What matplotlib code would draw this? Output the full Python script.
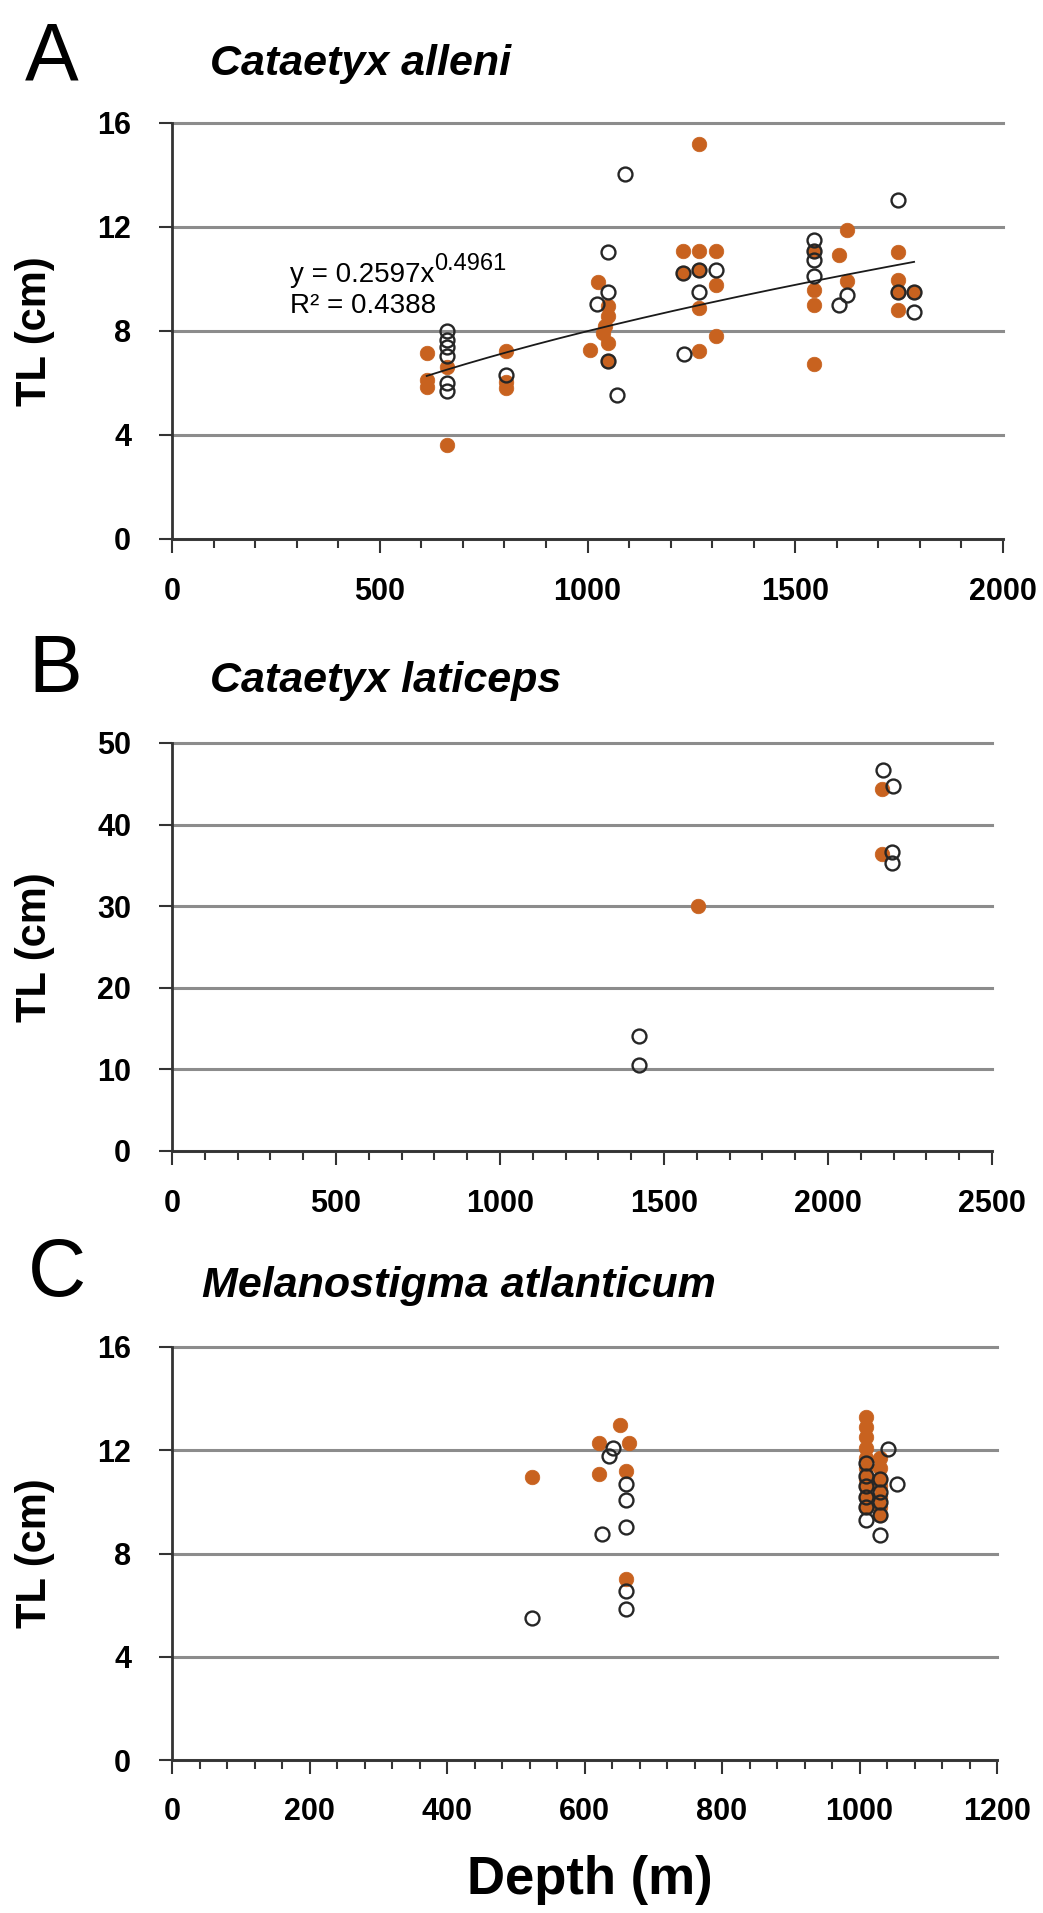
import numpy as np
import matplotlib.pyplot as plt
from matplotlib.ticker import MultipleLocator

plt.rcParams['font.family'] = ['Liberation Sans', 'DejaVu Sans']

ORANGE = '#C8621F'
EDGE = '#262626'
GRID = '#8c8c8c'
AXC = '#333333'

# --- A: Cataetyx alleni (depth m, TL cm) ---
a_fill_depth = [613, 613, 613, 663, 663, 805, 805, 805, 1006, 1026, 1049, 1049, 1042, 1038, 1049, 1049,
                1231, 1269, 1309, 1231, 1269, 1309, 1269, 1269, 1309, 1269,
                1545, 1545, 1545, 1545, 1606, 1624, 1624, 1748, 1748, 1748, 1748, 1786]
a_fill_tl = [7.15, 6.1, 5.85, 6.6, 3.63, 7.22, 6.02, 5.81, 7.28, 9.87, 8.95, 8.56, 8.18, 7.92, 7.54, 6.83,
             11.06, 11.06, 11.06, 10.23, 10.36, 9.78, 8.88, 7.22, 7.82, 15.19,
             11.06, 9.59, 9.01, 6.73, 10.93, 11.9, 9.91, 11.02, 9.97, 9.49, 8.79, 9.49]
a_open_depth = [663, 663, 663, 663, 663, 663, 805, 1024, 1049, 1049, 1049, 1072, 1090,
                1231, 1232, 1269, 1269, 1309, 1545, 1545, 1545, 1545, 1606, 1625, 1748, 1748, 1786, 1786]
a_open_tl = [8.01, 7.67, 7.4, 7.02, 6.0, 5.68, 6.32, 9.05, 11.02, 9.49, 6.83, 5.55, 14.05,
             10.23, 7.13, 10.36, 9.49, 10.33, 11.51, 11.06, 10.74, 10.1, 9.01, 9.4, 13.02, 9.49, 9.49, 8.73]
FIT_A = 0.2597
FIT_B = 0.4961

# --- B: Cataetyx laticeps ---
b_fill_depth = [1603, 2164, 2164]
b_fill_tl = [30.0, 44.4, 36.4]
b_open_depth = [1425, 1425, 2169, 2199, 2194, 2194]
b_open_tl = [14.07, 10.5, 46.7, 44.75, 36.7, 35.3]

# --- C: Melanostigma atlanticum ---
c_fill_depth = [523, 652, 621, 665, 621, 661, 661,
                1010, 1010, 1010, 1010, 1010, 1010, 1010, 1010, 1010, 1010,
                1030, 1030, 1030, 1030, 1030, 1030, 1030]
c_fill_tl = [10.98, 12.97, 12.29, 12.29, 11.08, 11.21, 7.01,
             13.3, 12.9, 12.5, 12.1, 11.7, 11.3, 10.9, 10.6, 10.2, 9.8,
             11.7, 11.3, 10.9, 10.6, 10.2, 9.8, 9.5]
c_open_depth = [523, 642, 635, 661, 661, 661, 626, 661, 661,
                1010, 1010, 1010, 1010, 1010, 1010, 1030, 1030, 1030, 1030, 1030, 1042, 1054]
c_open_tl = [5.49, 12.1, 11.78, 10.7, 10.09, 9.02, 8.76, 6.53, 5.84,
             11.5, 11.0, 10.6, 10.2, 9.8, 9.3, 10.9, 10.4, 10.0, 9.5, 8.7, 12.04, 10.7]

W, H = 1043, 1913


def box(l, r, t, b):
    return [l / W, 1 - b / H, (r - l) / W, (b - t) / H]


fig = plt.figure(figsize=(W / 100, H / 100), dpi=100)

panels = [
    dict(rect=box(172, 1003, 123, 539), xmax=2000, ymax=16, ystep=4, xmaj=500, xmin=100,
         fill=(a_fill_depth, a_fill_tl), open=(a_open_depth, a_open_tl),
         letter='A', lx=25, lb=79, title='Cataetyx alleni', tx=210, tb=75),
    dict(rect=box(172, 992, 743, 1151), xmax=2500, ymax=50, ystep=10, xmaj=500, xmin=100,
         fill=(b_fill_depth, b_fill_tl), open=(b_open_depth, b_open_tl),
         letter='B', lx=28, lb=692, title='Cataetyx laticeps', tx=210, tb=692),
    dict(rect=box(172, 997, 1347, 1760), xmax=1200, ymax=16, ystep=4, xmaj=200, xmin=40,
         fill=(c_fill_depth, c_fill_tl), open=(c_open_depth, c_open_tl),
         letter='C', lx=28, lb=1296, title='Melanostigma atlanticum', tx=202, tb=1297),
]

axes = []
for p in panels:
    ax = fig.add_axes(p['rect'])
    axes.append(ax)
    ax.set_xlim(0, p['xmax'])
    ax.set_ylim(0, p['ymax'])
    ax.xaxis.set_major_locator(MultipleLocator(p['xmaj']))
    ax.xaxis.set_minor_locator(MultipleLocator(p['xmin']))
    ax.yaxis.set_major_locator(MultipleLocator(p['ystep']))
    for s in ['top', 'right']:
        ax.spines[s].set_visible(False)
    for s in ['left', 'bottom']:
        ax.spines[s].set_color(AXC)
        ax.spines[s].set_linewidth(2)
        ax.spines[s].set_zorder(5)
    ax.yaxis.grid(True, color=GRID, lw=2.2)
    ax.set_axisbelow(True)
    for gl in ax.get_ygridlines():
        gl.set_clip_on(False)
    ax.tick_params(axis='y', direction='out', length=9.5, width=1.5, color=AXC, pad=20,
                   labelsize=22)
    ax.tick_params(axis='x', which='major', direction='out', length=10, width=1.5, color=AXC,
                   pad=17, labelsize=22)
    ax.tick_params(axis='x', which='minor', direction='out', length=6.5, width=1.5, color=AXC)
    for lab in ax.get_xticklabels() + ax.get_yticklabels():
        lab.set_fontweight('bold')

    fx, fy = p['fill']
    ox, oy = p['open']
    ax.plot(fx, fy, 'o', ls='none', ms=10.5, mfc=ORANGE, mec=ORANGE, mew=0.5, zorder=3, clip_on=False)
    ax.plot(ox, oy, 'o', ls='none', ms=10, mfc='none', mec=EDGE, mew=1.7, zorder=4, clip_on=False)

    fig.text(p['lx'] / W, 1 - p['lb'] / H, p['letter'], fontsize=58, va='baseline', ha='left')
    fig.text(p['tx'] / W, 1 - p['tb'] / H, p['title'], fontsize=31, fontweight='bold',
             fontstyle='italic', va='baseline', ha='left')
    pos = ax.get_position()
    fig.text(35 / W, pos.y0 + pos.height / 2, 'TL (cm)', rotation=90, fontsize=30,
             fontweight='bold', ha='center', va='center')

# power trend line in panel A
ax = axes[0]
xa = np.array(a_fill_depth + a_open_depth, dtype=float)
xf = np.linspace(xa.min(), xa.max(), 200)
ax.plot(xf, FIT_A * xf ** FIT_B, color='#1a1a1a', lw=1.3, zorder=4.5)
t = ax.text(284, 9.9, 'y = %.4fx' % FIT_A, fontsize=20, va='baseline', ha='left')
ax.annotate('%.4f' % FIT_B, xy=(1.0, 0.68), xycoords=t, fontsize=17, va='baseline', ha='left')
ax.text(284, 8.7, 'R\u00b2 = 0.4388', fontsize=20, va='baseline', ha='left')

fig.text(590 / W, 1 - 1880 / H, 'Depth (m)', fontsize=38, fontweight='bold', ha='center', va='center')

fig.savefig('out.png', dpi=100, facecolor='white')
